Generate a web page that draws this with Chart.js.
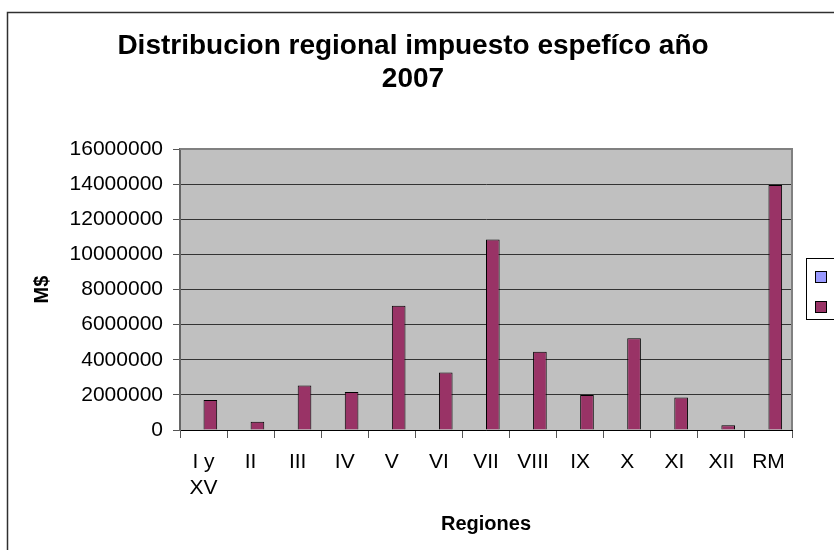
<!DOCTYPE html>
<html>
<head>
<meta charset="utf-8">
<script src="https://cdn.jsdelivr.net/npm/chart.js@4.4.1/dist/chart.umd.min.js"></script>
<style>
  html, body { margin: 0; padding: 0; background: #fff; overflow: hidden; }
  canvas { display: block; }
</style>
</head>
<body>
<canvas id="impuestoChart" width="834" height="550"></canvas>
<script>
// montos por region, en M$
const regiones = [['I y', 'XV'], 'II', 'III', 'IV', 'V', 'VI', 'VII', 'VIII', 'IX', 'X', 'XI', 'XII', 'RM'];
const serie1 = [0, 0, 0, 0, 0, 0, 0, 0, 0, 0, 0, 0, 0];
const serie2 = [1710000, 470000, 2530000, 2160000, 7070000, 3280000, 10850000, 4460000, 2000000, 5230000, 1850000, 270000, 13950000];
const ejeY = [0, 2000000, 4000000, 6000000, 8000000, 10000000, 12000000, 14000000, 16000000];

const FONT = "'Liberation Sans', Arial, sans-serif";

// fondo gris del area de trazado, marco y leyenda
const fondoPlot = {
  id: 'fondoPlot',
  beforeDraw(chart) {
    const { ctx, chartArea: a } = chart;
    ctx.save();
    ctx.fillStyle = '#c0c0c0';
    ctx.fillRect(a.left, a.top, a.right - a.left, a.bottom - a.top);
    ctx.restore();
  },
  afterDraw(chart) {
    const { ctx, chartArea: a } = chart;
    ctx.save();
    // borde superior y derecho del area
    ctx.strokeStyle = '#808080';
    ctx.lineWidth = 2;
    ctx.beginPath();
    ctx.moveTo(a.left, a.top);
    ctx.lineTo(a.right, a.top);
    ctx.lineTo(a.right, a.bottom);
    ctx.stroke();
    // marco del grafico
    ctx.strokeStyle = '#303030';
    ctx.lineWidth = 1.5;
    ctx.strokeRect(7.5, 12.5, 900, 600);
    // leyenda (cortada a la derecha)
    ctx.lineWidth = 1;
    ctx.strokeStyle = '#000';
    ctx.strokeRect(806.5, 258.5, 60, 61);
    chart.data.datasets.forEach((ds, i) => {
      const y = 271.5 + i * 30;
      ctx.fillStyle = ds.backgroundColor;
      ctx.fillRect(815.5, y, 11, 11);
      ctx.strokeRect(815.5, y, 11, 11);
    });
    ctx.restore();
  }
};

new Chart(document.getElementById('impuestoChart'), {
  type: 'bar',
  data: {
    labels: regiones,
    datasets: [
      { label: 'Serie1', data: serie1, backgroundColor: '#9999ff', borderWidth: 0 },
      { label: 'Serie2', data: serie2, backgroundColor: '#993366', borderColor: '#000', borderWidth: 1 }
    ]
  },
  options: {
    responsive: false,
    animation: false,
    categoryPercentage: 0.58,
    barPercentage: 1.0,
    layout: { padding: { top: 12, left: 0, right: 8, bottom: 6 } },
    plugins: {
      legend: { display: false },
      tooltip: { enabled: false },
      title: {
        display: true,
        text: ['Distribucion regional impuesto espefíco año', '2007'],
        color: '#000',
        font: { family: FONT, size: 28, weight: 'bold', lineHeight: 1.18 },
        padding: { top: 18, bottom: 53 }
      }
    },
    scales: {
      x: {
        grid: { display: true, drawOnChartArea: false, tickLength: 8, color: '#555', offset: true },
        border: { display: true, color: '#000', width: 1 },
        ticks: { color: '#000', padding: 12, maxRotation: 0, autoSkip: false, font: { family: FONT, size: 21, lineHeight: 1.2 } },
        title: { display: true, text: 'Regiones', color: '#000', font: { family: FONT, size: 20, weight: 'bold' }, padding: { top: 4, bottom: 8 } },
        afterFit(s) { s.height = 114; }
      },
      y: {
        min: ejeY[0],
        max: ejeY[ejeY.length - 1],
        afterBuildTicks(s) { s.ticks = ejeY.map(v => ({ value: v })); },
        grid: { color: '#333', lineWidth: 1, tickLength: 7, tickColor: '#555' },
        border: { display: true, color: '#666', width: 2 },
        ticks: { color: '#000', padding: 10, font: { family: FONT, size: 21 }, callback: v => String(v) },
        title: { display: true, text: 'M$', color: '#000', font: { family: FONT, size: 20, weight: 'bold' }, padding: { top: 30, bottom: 0 } },
        afterFit(s) { s.width = 180; }
      },
      // espacio a la derecha reservado para la leyenda
      margen: {
        type: 'linear',
        position: 'right',
        display: true,
        grid: { display: false, drawTicks: false },
        ticks: { display: false },
        border: { display: false },
        afterFit(s) { s.width = 34; }
      }
    }
  },
  plugins: [fondoPlot]
});
</script>
</body>
</html>
